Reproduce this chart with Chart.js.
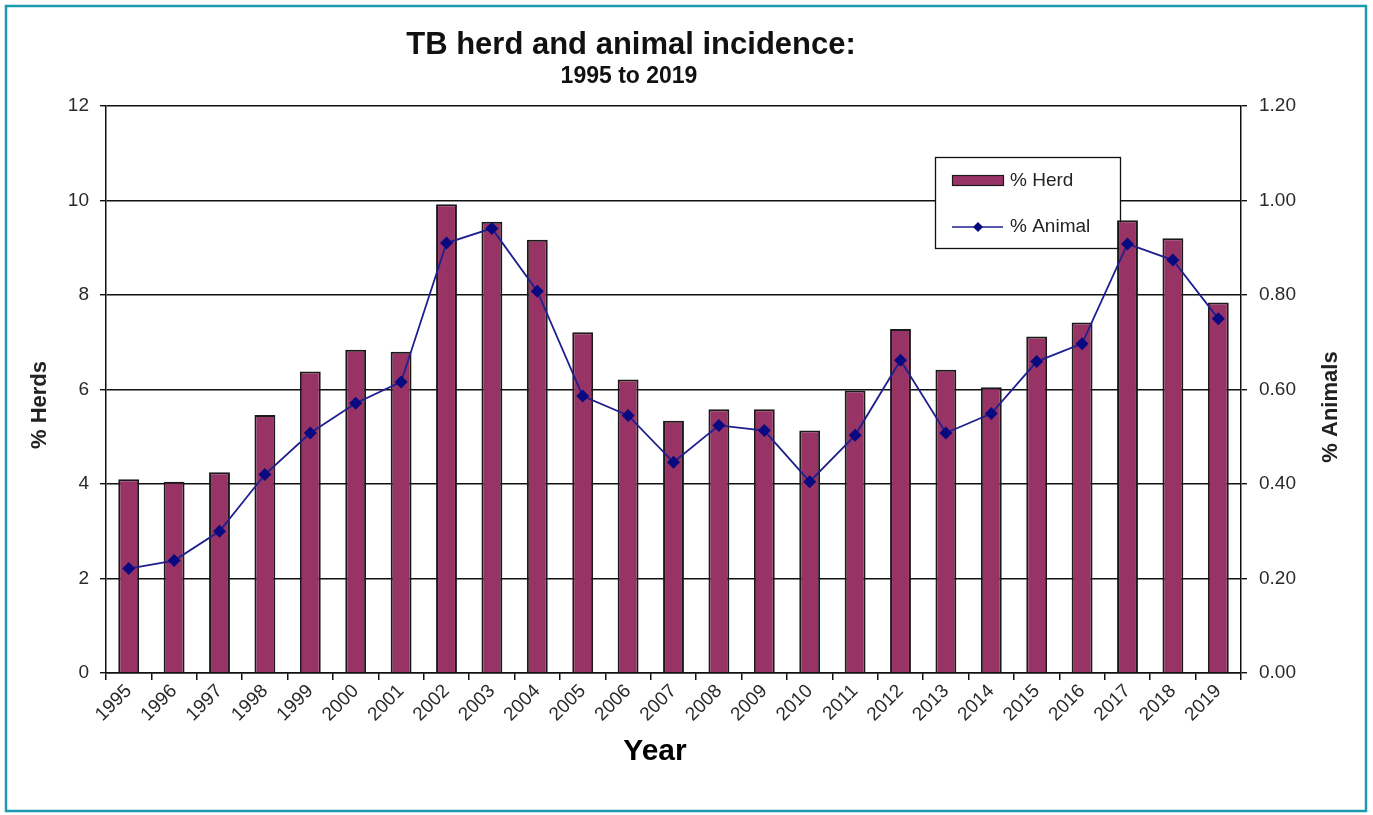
<!DOCTYPE html>
<html>
<head>
<meta charset="utf-8">
<script src="https://cdn.jsdelivr.net/npm/chart.js@4.4.1/dist/chart.umd.min.js"></script>
<style>
  html, body { margin: 0; padding: 0; background: #fff; }
  #wrap { position: relative; width: 1373px; height: 815px; }
  canvas { display: block; }
</style>
</head>
<body>
<div id="wrap"><canvas id="c" width="1373" height="815"></canvas></div>
<script>
const years = ["1995","1996","1997","1998","1999","2000","2001","2002","2003","2004","2005","2006","2007","2008","2009","2010","2011","2012","2013","2014","2015","2016","2017","2018","2019"];
const herdPct = [4.10,4.05,4.25,5.46,6.38,6.84,6.80,9.92,9.55,9.17,7.21,6.21,5.34,5.58,5.58,5.13,5.98,7.28,6.42,6.05,7.12,7.42,9.58,9.20,7.84];
const animalPct = [0.221,0.238,0.300,0.420,0.508,0.571,0.616,0.910,0.941,0.808,0.586,0.545,0.446,0.524,0.513,0.405,0.503,0.662,0.508,0.549,0.659,0.697,0.908,0.874,0.750];
const herdTicks = [0,2,4,6,8,10,12];
const animalTicks = [0,0.2,0.4,0.6,0.8,1.0,1.2];
const titleText = "TB herd and animal incidence:";
const subtitleText = "1995 to 2019";
const xTitle = "Year";
const yTitle = "% Herds";
const y1Title = "% Animals";

const FONT = "'Liberation Sans', Arial, sans-serif";
const BAR_COLOR = "#983366";
const LINE_COLOR = "#1f1f8f";

const decorPlugin = {
  id: 'decor',
  beforeDraw(chart) {
    const ctx = chart.ctx;
    ctx.save();
    ctx.fillStyle = '#fff';
    ctx.fillRect(0, 0, chart.width, chart.height);
    ctx.restore();
  },
  beforeDatasetsDraw(chart) {
    const ctx = chart.ctx;
    const ds = chart.data.datasets;
    ctx.save();
    ctx.fillStyle = '#fff';
    ctx.fillRect(935, 157, 185, 91);
    ctx.strokeStyle = '#111';
    ctx.lineWidth = 1.3;
    ctx.strokeRect(935.5, 157.5, 185, 91);
    ctx.fillStyle = ds[1].backgroundColor;
    ctx.fillRect(952, 175, 51, 10);
    ctx.strokeStyle = ds[1].borderColor;
    ctx.lineWidth = 1.2;
    ctx.strokeRect(952.5, 175.5, 51, 10);
    ctx.strokeStyle = ds[0].borderColor;
    ctx.lineWidth = 1.6;
    ctx.beginPath();
    ctx.moveTo(952, 227);
    ctx.lineTo(1003, 227);
    ctx.stroke();
    ctx.fillStyle = ds[0].pointBackgroundColor;
    ctx.beginPath();
    ctx.moveTo(978, 222); ctx.lineTo(983, 227); ctx.lineTo(978, 232); ctx.lineTo(973, 227);
    ctx.closePath();
    ctx.fill();
    ctx.fillStyle = '#222';
    ctx.font = "19px " + FONT;
    ctx.textAlign = 'left';
    ctx.textBaseline = 'middle';
    ctx.fillText(ds[1].label, 1010, 181);
    ctx.fillText(ds[0].label, 1010, 227);
    ctx.restore();
  },
  afterDraw(chart) {
    const ctx = chart.ctx;
    ctx.save();
    // frame
    ctx.strokeStyle = '#1c9bb0';
    ctx.lineWidth = 2.5;
    ctx.strokeRect(6, 6, 1360, 805);
    // titles
    ctx.fillStyle = '#111';
    ctx.textAlign = 'center';
    ctx.textBaseline = 'middle';
    ctx.font = "bold 31px " + FONT;
    ctx.fillText(titleText, 631, 45);
    ctx.font = "bold 23px " + FONT;
    ctx.fillText(subtitleText, 629, 77);
    ctx.fillStyle = '#000';
    ctx.font = "bold 30px " + FONT;
    ctx.fillText(xTitle, 655, 752);
    // y titles
    ctx.fillStyle = '#222';
    ctx.font = "bold 22px " + FONT;
    ctx.save();
    ctx.translate(40, 405);
    ctx.rotate(-Math.PI / 2);
    ctx.fillText(yTitle, 0, 0);
    ctx.restore();
    ctx.save();
    ctx.translate(1331, 407);
    ctx.rotate(-Math.PI / 2);
    ctx.fillText(y1Title, 0, 0);
    ctx.restore();
    ctx.restore();
  }
};

new Chart(document.getElementById('c'), {
  data: {
    labels: years,
    datasets: [
      {
        type: 'line',
        label: '% Animal',
        data: animalPct,
        yAxisID: 'y1',
        borderColor: LINE_COLOR,
        borderWidth: 1.8,
        pointStyle: 'rectRot',
        pointRadius: 6.5,
        pointBackgroundColor: '#0a0a80',
        pointBorderColor: '#0a0a80',
        pointBorderWidth: 0,
        tension: 0,
        fill: false,
        order: 0
      },
      {
        type: 'bar',
        label: '% Herd',
        data: herdPct,
        yAxisID: 'y',
        backgroundColor: BAR_COLOR,
        borderColor: '#1a1a1a',
        borderWidth: 2,
        barPercentage: 0.46,
        categoryPercentage: 1.0,
        order: 1
      }
    ]
  },
  options: {
    responsive: false,
    animation: false,
    layout: { padding: { top: 106, left: 0, right: 0, bottom: 0 } },
    plugins: {
      legend: { display: false },
      title: { display: false },
      tooltip: { enabled: false }
    },
    scales: {
      x: {
        type: 'category',
        offset: true,
        grid: {
          offset: true,
          drawOnChartArea: false,
          drawTicks: true,
          tickLength: 7,
          color: '#111',
          lineWidth: 1.5
        },
        border: { display: true, color: '#111', width: 1.5 },
        ticks: {
          minRotation: 45,
          maxRotation: 45,
          autoSkip: false,
          padding: 0,
          color: '#2a2a2a',
          font: { family: FONT, size: 19 }
        },
        afterFit(scale) { scale.height = 142; }
      },
      y: {
        position: 'left',
        min: 0,
        max: 12,
        afterBuildTicks(scale) { scale.ticks = herdTicks.map(v => ({ value: v })); },
        grid: {
          drawOnChartArea: true,
          drawTicks: true,
          tickLength: 6,
          color: '#111',
          lineWidth: 1.4
        },
        border: { display: true, color: '#111', width: 1.5 },
        ticks: {
          padding: 11,
          color: '#2a2a2a',
          font: { family: FONT, size: 19 },
          callback: (v) => String(v)
        },
        afterFit(scale) { scale.width = 106; }
      },
      y1: {
        position: 'right',
        min: 0,
        max: 1.2,
        afterBuildTicks(scale) { scale.ticks = animalTicks.map(v => ({ value: v })); },
        grid: {
          drawOnChartArea: false,
          drawTicks: true,
          tickLength: 6,
          color: '#111',
          lineWidth: 1.4
        },
        border: { display: true, color: '#111', width: 1.5 },
        ticks: {
          padding: 12,
          color: '#2a2a2a',
          font: { family: FONT, size: 19 },
          callback: (v) => Number(v).toFixed(2)
        },
        afterFit(scale) { scale.width = 132; }
      }
    }
  },
  plugins: [decorPlugin]
});
</script>
</body>
</html>
